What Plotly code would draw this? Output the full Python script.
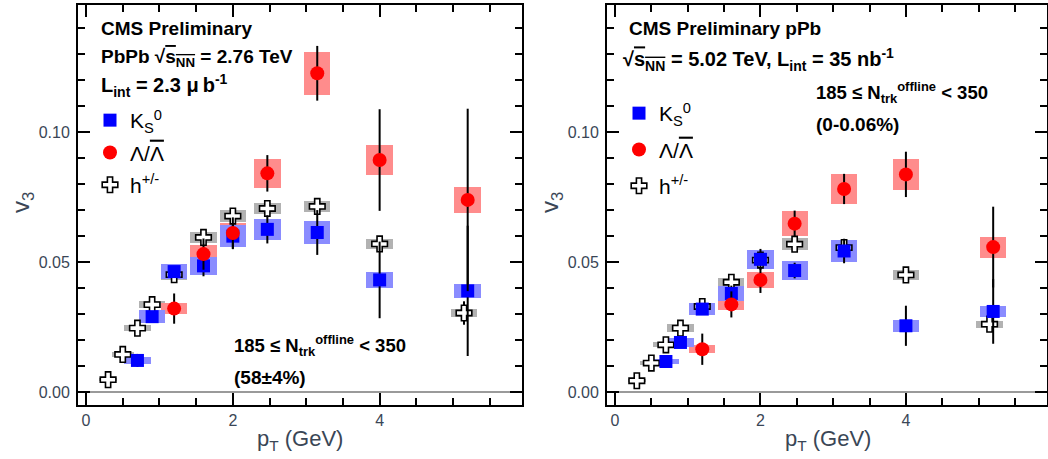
import plotly.graph_objects as go

# ---------------- data ----------------
pt_h = [0.3, 0.5, 0.7, 0.9, 1.2, 1.6, 2.0, 2.47, 3.15, 4.0, 5.15]
pt_k = [0.7, 0.9, 1.2, 1.6, 2.0, 2.47, 3.15, 4.0, 5.2]
pt_l = [1.2, 1.6, 2.0, 2.47, 3.15, 4.0, 5.2]
dx_h = [0.12, 0.15, 0.18, 0.18, 0.18, 0.18, 0.18, 0.18, 0.18, 0.18, 0.18]
dx_k = [0.18] * 9
dx_l = [0.18] * 7

# PbPb
v3_h_pbpb = [0.0049, 0.0146, 0.0247, 0.0337, 0.0452, 0.0595, 0.0677, 0.0706, 0.0714, 0.0570, 0.0305]
stat_h_pbpb = [0.0005, 0.0008, 0.0010, 0.0010, 0.0012, 0.0013, 0.0015, 0.0015, 0.0018, 0.0025, 0.0045]
sys_h_pbpb = [0.0005, 0.0010, 0.0012, 0.0013, 0.0020, 0.0020, 0.0022, 0.0022, 0.0022, 0.0020, 0.0015]

v3_k_pbpb = [0.0123, 0.0291, 0.0464, 0.0486, 0.0600, 0.0626, 0.0614, 0.0432, 0.0390]
stat_k_pbpb = [0.0025, 0.0020, 0.0020, 0.0040, 0.0050, 0.0054, 0.0086, 0.0147, 0.0250]
sys_k_pbpb = [0.0012, 0.0024, 0.0030, 0.0035, 0.0043, 0.0039, 0.0043, 0.0032, 0.0028]

v3_l_pbpb = [0.0322, 0.0531, 0.0612, 0.0841, 0.1225, 0.0892, 0.0739]
stat_l_pbpb = [0.0058, 0.0060, 0.0060, 0.0070, 0.0105, 0.0195, 0.0350]
sys_l_pbpb = [0.0020, 0.0035, 0.0040, 0.0056, 0.0083, 0.0059, 0.0050]

# pPb
v3_h_ppb = [0.0045, 0.0113, 0.0183, 0.0247, 0.0330, 0.0423, 0.0508, 0.0569, 0.0556, 0.0451, 0.0262]
stat_h_ppb = [0.0005, 0.0007, 0.0008, 0.0009, 0.0010, 0.0010, 0.0012, 0.0015, 0.0020, 0.0015, 0.0025]
sys_h_ppb = [0.0005, 0.0008, 0.0010, 0.0014, 0.0015, 0.0016, 0.0018, 0.0022, 0.0020, 0.0019, 0.0014]

v3_k_ppb = [0.0119, 0.0192, 0.0320, 0.0380, 0.0511, 0.0468, 0.0543, 0.0256, 0.0311]
stat_k_ppb = [0.0020, 0.0020, 0.0015, 0.0030, 0.0040, 0.0030, 0.0047, 0.0077, 0.0124]
sys_k_ppb = [0.0010, 0.0019, 0.0024, 0.0030, 0.0036, 0.0035, 0.0042, 0.0022, 0.0022]

v3_l_ppb = [0.0166, 0.0338, 0.0432, 0.0648, 0.0781, 0.0837, 0.0558]
stat_l_ppb = [0.0060, 0.0050, 0.0050, 0.0050, 0.0058, 0.0087, 0.0155]
sys_l_ppb = [0.0016, 0.0020, 0.0032, 0.0047, 0.0056, 0.0059, 0.0040]

x_ticks = [0, 2, 4]
y_ticks = [0.0, 0.05, 0.10]
y_ticktext = ["0.00", "0.05", "0.10"]

FONT = "Liberation Sans, Arial, Helvetica, sans-serif"
W, H = 1048, 459

BOX_COL = {"h": "#b2b2b2", "k": "#8a8cff", "l": "#ff8c8c"}

fig = go.Figure()

LAMBDA_NAME = "\u039b/<span style='text-decoration:overline'>\u039b</span>"


def add_panel(xa, ya, legend_name, hv, hs, hsy, kv, ks, ksy, lv, ls, lsy):
    # systematic boxes (gray, red, blue)
    for pts, vals, sy, dx, key in [(pt_h, hv, hsy, dx_h, "h"),
                                   (pt_l, lv, lsy, dx_l, "l"),
                                   (pt_k, kv, ksy, dx_k, "k")]:
        fig.add_trace(go.Bar(
            x=pts, y=[2 * s for s in sy], base=[v - s for v, s in zip(vals, sy)],
            width=[2 * d for d in dx], marker=dict(color=BOX_COL[key], line=dict(width=0)),
            showlegend=False, hoverinfo="skip", xaxis=xa, yaxis=ya))
    # h markers
    fig.add_trace(go.Scatter(
        x=pt_h, y=hv, mode="markers", name="h<sup>+/-</sup>",
        error_y=dict(type="data", array=hs, color="black", thickness=2, width=0),
        marker=dict(symbol="cross", size=13, color="white", line=dict(color="black", width=1.6)),
        xaxis=xa, yaxis=ya, legend=legend_name, legendrank=3,
        legendgroup=legend_name + "_h"))
    # K0S
    fig.add_trace(go.Scatter(
        x=pt_k, y=kv, mode="markers", name="K<sub>S</sub><sup>0</sup>",
        error_y=dict(type="data", array=ks, color="black", thickness=2, width=0),
        marker=dict(symbol="square", size=13, color="#0000ff", line=dict(width=0)),
        xaxis=xa, yaxis=ya, legend=legend_name, legendrank=1,
        legendgroup=legend_name + "_k"))
    # Lambda
    fig.add_trace(go.Scatter(
        x=pt_l, y=lv, mode="markers", name=LAMBDA_NAME,
        error_y=dict(type="data", array=ls, color="black", thickness=2, width=0),
        marker=dict(symbol="circle", size=14, color="#ff0000", line=dict(width=0)),
        xaxis=xa, yaxis=ya, legend=legend_name, legendrank=2,
        legendgroup=legend_name + "_l"))


add_panel("x", "y", "legend", v3_h_pbpb, stat_h_pbpb, sys_h_pbpb,
          v3_k_pbpb, stat_k_pbpb, sys_k_pbpb, v3_l_pbpb, stat_l_pbpb, sys_l_pbpb)
add_panel("x2", "y2", "legend2", v3_h_ppb, stat_h_ppb, sys_h_ppb,
          v3_k_ppb, stat_k_ppb, sys_k_ppb, v3_l_ppb, stat_l_ppb, sys_l_ppb)

tickfont = dict(family=FONT, size=16, color="#3a4656")


def xaxis(domain, anchor):
    return dict(domain=domain, anchor=anchor, range=[-0.11, 5.94],
                showline=True, linecolor="black", linewidth=2, mirror="ticks",
                ticks="inside", ticklen=12, tickwidth=2, tickcolor="black",
                tickvals=x_ticks, showgrid=False, zeroline=False, tickfont=tickfont,
                minor=dict(ticks="inside", ticklen=7, tickwidth=2, tickcolor="black",
                           dtick=0.5, tick0=0, showgrid=False))


def yaxis(anchor):
    return dict(domain=[54 / H, 454 / H], anchor=anchor, range=[-0.0048, 0.1487],
                showline=True, linecolor="black", linewidth=2, mirror="ticks",
                ticks="inside", ticklen=12, tickwidth=2, tickcolor="black",
                tickvals=y_ticks, ticktext=y_ticktext, showgrid=False,
                zeroline=True, zerolinecolor="#9a9a9a", zerolinewidth=1.5,
                tickfont=tickfont, ticklabelstandoff=3,
                minor=dict(ticks="inside", ticklen=7, tickwidth=2, tickcolor="black",
                           dtick=0.01, tick0=0, showgrid=False))


def px(x):
    return x / W


def py(y):
    return 1 - y / H


annots = []


def txt(text, x, y, size=19, xanchor="left", color="black", angle=0):
    annots.append(dict(text=text, x=px(x), y=py(y), xref="paper", yref="paper",
                       xanchor=xanchor, yanchor="middle", showarrow=False, textangle=angle,
                       font=dict(family=FONT, size=size, color=color)))


sqrt_s = "\u221a<span style='text-decoration:overline'>s<sub>NN</sub></span>"
# left panel texts
txt("<b>CMS Preliminary</b>", 99, 28)
txt("<b>PbPb " + sqrt_s + " = 2.76 TeV</b>", 99, 58)
txt("<b>L<sub>int</sub> = 2.3 \u03bc\u2009b<sup>-1</sup></b>", 99, 86, size=20)
txt("<b>185 \u2264 N<sub>trk</sub><sup>offline</sup> &lt; 350</b>", 232, 345, size=18.5)
txt("<b>(58\u00b14%)</b>", 232, 377)
# right panel texts
txt("<b>CMS Preliminary pPb</b>", 627, 28)
txt("<b>" + sqrt_s + " = 5.02 TeV, L<sub>int</sub> = 35 nb<sup>-1</sup></b>", 621, 60, size=20)
txt("<b>185 \u2264 N<sub>trk</sub><sup>offline</sup> &lt; 350</b>", 814, 93, size=18.5)
txt("<b>(0-0.06%)</b>", 814, 124)
# axis titles
axcol = "#3a4656"
txt("v<sub>3</sub>", 22, 203, size=24, xanchor="center", color=axcol, angle=-90)
txt("v<sub>3</sub>", 551, 203, size=24, xanchor="center", color=axcol, angle=-90)
txt("p<sub>T</sub> (GeV)", 300, 440, size=22, xanchor="center", color=axcol)
txt("p<sub>T</sub> (GeV)", 828, 440, size=22, xanchor="center", color=axcol)

legfont = dict(family=FONT, size=21, color="black")
fig.update_layout(
    width=W, height=H, margin=dict(l=0, r=0, t=0, b=0),
    paper_bgcolor="white", plot_bgcolor="white", barmode="overlay", bargap=0,
    xaxis=xaxis([78 / W, 522 / W], "y"),
    yaxis=yaxis("x"),
    xaxis2=xaxis([607 / W, 1047 / W], "y2"),
    yaxis2=yaxis("x2"),
    legend=dict(x=px(90), y=py(100), xanchor="left", yanchor="top", font=legfont,
                bgcolor="rgba(0,0,0,0)", itemsizing="trace", tracegroupgap=2),
    legend2=dict(x=px(619), y=py(93), xanchor="left", yanchor="top", font=legfont,
                 bgcolor="rgba(0,0,0,0)", itemsizing="trace", tracegroupgap=6),
    annotations=annots,
    showlegend=True,
)

fig.write_html("out.html", config={"displayModeBar": False},
               post_script="document.body.style.margin='0';document.body.style.overflow='hidden';")
